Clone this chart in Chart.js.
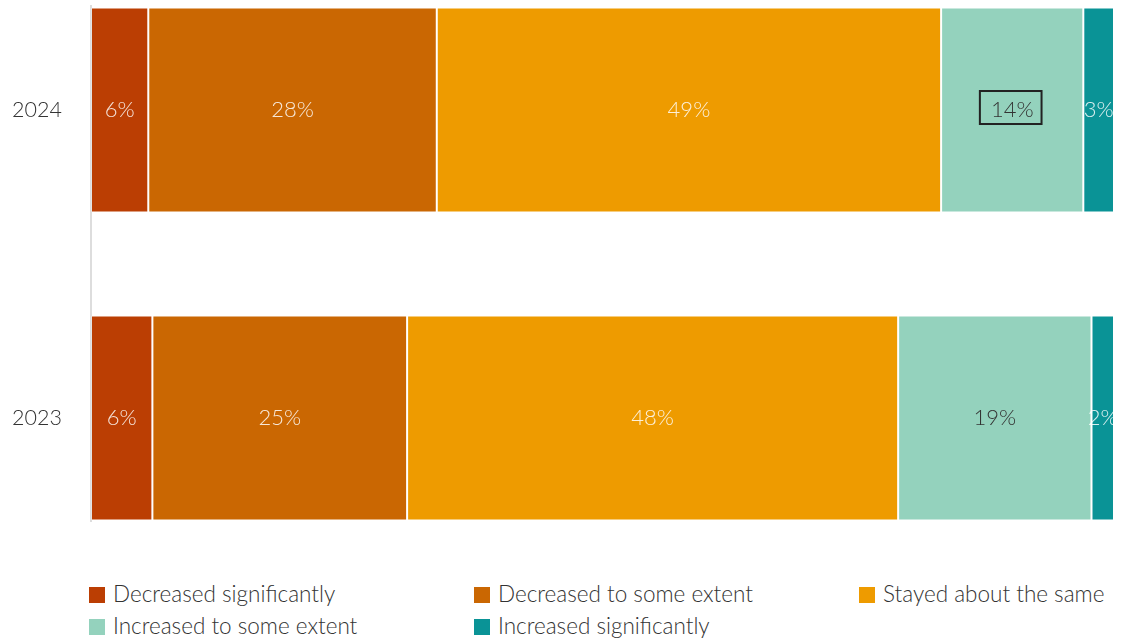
<!DOCTYPE html>
<html><head><meta charset="utf-8">
<script src="https://cdn.jsdelivr.net/npm/chart.js@4/dist/chart.umd.min.js"></script>
<style>
html,body{margin:0;padding:0;background:#fff;}
#wrap{position:relative;width:1131px;height:638px;overflow:hidden;}
#chartBox{position:absolute;left:0;top:0;width:1131px;height:540px;}
#legend{position:absolute;left:89px;top:577px;display:grid;grid-template-columns:385px 385px 272px;}
.item{display:flex;align-items:center;height:32px;font:300 22.5px Lato, sans-serif;color:#333;white-space:nowrap;}
.sw{width:16px;height:16px;margin-right:8px;flex:none;position:relative;top:2px;}
</style></head>
<body><div id="wrap"><div id="chartBox"><canvas id="c"></canvas></div><div id="legend"></div></div>
<script>
// ---- data ----
const years = ['2024', '2023'];
const seriesNames = ['Decreased significantly', 'Decreased to some extent', 'Stayed about the same', 'Increased to some extent', 'Increased significantly'];
const decreasedSignificantly = [5.6, 6.0];
const decreasedSomeExtent = [28.2, 24.9];
const stayedSame = [49.3, 48.0];
const increasedSomeExtent = [13.9, 18.9];
const increasedSignificantly = [3.0, 2.2];
const seriesColors = ['#bb3e03', '#ca6702', '#ee9b00', '#94d2bd', '#0a9396'];
const labelColors = ['rgba(255,255,255,0.85)', 'rgba(255,255,255,0.85)', 'rgba(255,255,255,0.85)', '#333333', 'rgba(255,255,255,0.85)'];
const highlight = { series: 3, category: 0 };
const FONT = 'Lato, sans-serif';

const allSeries = [decreasedSignificantly, decreasedSomeExtent, stayedSame, increasedSomeExtent, increasedSignificantly];

const datasets = allSeries.map((vals, si) => ({
  label: seriesNames[si],
  data: vals.map((v, i) => ({ x: v, y: i })),
  backgroundColor: seriesColors[si],
  borderColor: 'rgba(255,255,255,0.22)',
  borderWidth: 1,
  borderSkipped: false,
  barPercentage: 0.666,
  categoryPercentage: 1
}));

const segLabels = {
  id: 'segLabels',
  afterDatasetsDraw(chart) {
    const { ctx, chartArea: a } = chart;
    ctx.save();
    ctx.beginPath();
    ctx.rect(a.left, a.top, a.right - a.left, a.bottom - a.top);
    ctx.clip();
    ctx.font = '300 22px ' + FONT;
    ctx.textAlign = 'center';
    ctx.textBaseline = 'middle';
    chart.data.datasets.forEach((ds, di) => {
      const meta = chart.getDatasetMeta(di);
      meta.data.forEach((bar, i) => {
        const txt = Math.round(ds.data[i].x) + '%';
        const cx = (bar.x + bar.base) / 2;
        const cy = bar.y;
        ctx.fillStyle = labelColors[di];
        ctx.fillText(txt, cx, cy);
        if (di === highlight.series && i === highlight.category) {
          const w = ctx.measureText(txt).width + 19;
          ctx.strokeStyle = '#222';
          ctx.lineWidth = 2;
          ctx.strokeRect(cx - 1.5 - w / 2, cy - 2.5 - 16.5, w, 33);
        }
      });
    });
    ctx.restore();
  }
};

const chart = new Chart(document.getElementById('c'), {
  type: 'bar',
  data: { datasets },
  options: {
    indexAxis: 'y',
    responsive: true,
    maintainAspectRatio: false,
    animation: false,
    layout: { padding: { top: 6, right: 17, bottom: 19, left: 0 } },
    plugins: { legend: { display: false }, tooltip: { enabled: false } },
    scales: {
      x: { stacked: true, min: 0, max: 100, display: false },
      y: {
        type: 'linear',
        stacked: true,
        reverse: true,
        offset: false,
        min: -0.3377,
        max: 1.3344,
        afterBuildTicks: (s) => { s.ticks = years.map((_, i) => ({ value: i })); },
        afterFit: (s) => { s.width = 91; s.paddingTop = 0; s.paddingBottom = 0; },
        grid: { display: false, drawTicks: false },
        border: { display: true, color: '#dddddd', width: 2 },
        ticks: {
          padding: 29,
          color: '#333',
          font: { family: FONT, size: 21.5, weight: 300 },
          callback: (v) => years[v] !== undefined ? years[v] : ''
        }
      }
    }
  },
  plugins: [segLabels]
});

const lg = document.getElementById('legend');
chart.data.datasets.forEach((ds) => {
  const it = document.createElement('div');
  it.className = 'item';
  const sw = document.createElement('span');
  sw.className = 'sw';
  sw.style.background = ds.backgroundColor;
  const tx = document.createElement('span');
  tx.textContent = ds.label;
  it.appendChild(sw); it.appendChild(tx);
  lg.appendChild(it);
});
</script></body></html>
